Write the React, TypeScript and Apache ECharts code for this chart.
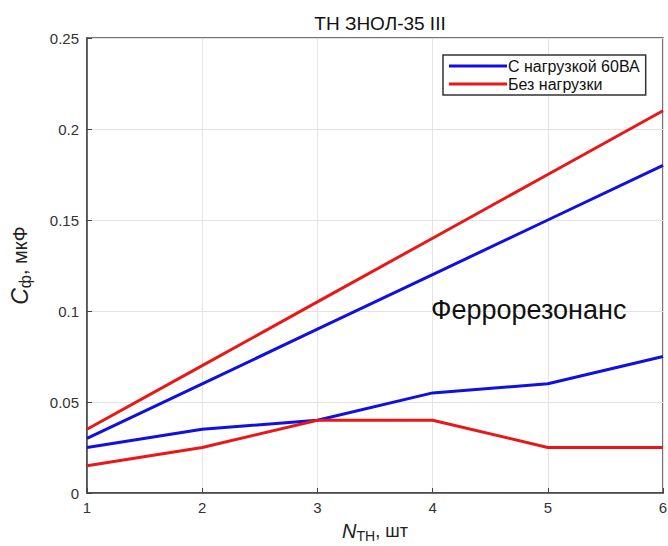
import React, { useEffect, useRef } from "react";
import * as echarts from "echarts";

const xValues = [1, 2, 3, 4, 5, 6];
const blueUpper = [0.03, 0.06, 0.09, 0.12, 0.15, 0.18];
const redUpper = [0.035, 0.07, 0.105, 0.14, 0.175, 0.21];
const blueLower = [0.025, 0.035, 0.04, 0.055, 0.06, 0.075];
const redLower = [0.015, 0.025, 0.04, 0.04, 0.025, 0.025];
const seriesNames = ["С нагрузкой 60ВА", "Без нагрузки"];
const titleText = "ТН ЗНОЛ-35 III";
const regionLabel = "Феррорезонанс";

const FONT = "Liberation Sans, Arial, sans-serif";

export default function App() {
  const ref = useRef<HTMLDivElement>(null);
  useEffect(() => {
    const chart = echarts.init(ref.current!, null, { renderer: "svg" });
    const pair = (vals: number[]) => xValues.map((x, i) => [x, vals[i]]);
    const mk = (name: string, color: string, vals: number[]) => ({
      type: "line",
      name,
      data: pair(vals),
      showSymbol: false,
      symbol: "none",
      lineStyle: { color, width: 3 },
      itemStyle: { color },
      z: 3,
    });
    const xRich = {
      i: { fontFamily: FONT, fontSize: 20, fontStyle: "italic", color: "#222" },
      s: { fontFamily: FONT, fontSize: 14, color: "#222", verticalAlign: "bottom", padding: [10, 0, 0, 0] },
      n: { fontFamily: FONT, fontSize: 18, color: "#222" },
    };
    const yRich = {
      i: { fontFamily: FONT, fontSize: 23, fontStyle: "italic", color: "#222" },
      s: { fontFamily: FONT, fontSize: 16, color: "#222", verticalAlign: "bottom", padding: [10, 0, 0, 0] },
      n: { fontFamily: FONT, fontSize: 20, color: "#222" },
    };
    chart.setOption({
      animation: false,
      backgroundColor: "#fff",
      title: {
        text: titleText,
        left: 375,
        textAlign: "center",
        top: 9,
        textStyle: { fontFamily: FONT, fontSize: 19, fontWeight: "normal", color: "#111" },
      },
      grid: {
        left: 87,
        top: 38,
        width: 576,
        height: 455,
        outerBoundsMode: "none",
        containLabel: false,
        show: true,
        borderColor: "#444",
        borderWidth: 1.5,
        backgroundColor: "#fff",
      },
      legend: {
        orient: "vertical",
        left: 443,
        top: 55,
        padding: [3, 6, 3, 6],
        itemGap: 2,
        borderColor: "#333",
        borderWidth: 1.5,
        backgroundColor: "#fff",
        icon: "rect",
        itemWidth: 58,
        itemHeight: 3,
        data: seriesNames,
        textStyle: { fontFamily: FONT, fontSize: 16, color: "#111", padding: [0, 0, 0, -4] },
      },
      xAxis: {
        type: "value",
        min: 1,
        max: 6,
        interval: 1,
        name: "{i|N}{s|TH}{n|, шт}",
        nameLocation: "middle",
        nameGap: 26,
        nameTextStyle: { rich: xRich },
        axisLine: { show: true, lineStyle: { color: "#444", width: 1.5 } },
        axisTick: { inside: true, length: 5, lineStyle: { color: "#444" } },
        axisLabel: { fontFamily: FONT, fontSize: 15, color: "#333", margin: 7 },
        splitLine: { show: true, lineStyle: { color: "#e3e3e3", width: 1 } },
      },
      yAxis: {
        type: "value",
        min: 0,
        max: 0.25,
        interval: 0.05,
        name: "{i|C}{s|ф}{n|, мкФ}",
        nameLocation: "middle",
        nameGap: 54,
        nameRotate: 90,
        nameTextStyle: { rich: yRich },
        axisLine: { show: true, lineStyle: { color: "#444", width: 1.5 } },
        axisTick: { inside: true, length: 5, lineStyle: { color: "#444" } },
        axisLabel: { fontFamily: FONT, fontSize: 15, color: "#333", margin: 8 },
        splitLine: { show: true, lineStyle: { color: "#e3e3e3", width: 1 } },
      },
      graphic: [
        {
          type: "text",
          left: 431,
          top: 296,
          z: 10,
          style: { text: regionLabel, fontFamily: FONT, fontSize: 27, fill: "#111" },
        },
      ],
      series: [
        mk(seriesNames[0], "#1010e0", blueUpper),
        mk(seriesNames[1], "#e81818", redUpper),
        mk(seriesNames[0], "#1010e0", blueLower),
        mk(seriesNames[1], "#e81818", redLower),
      ],
    });
    return () => chart.dispose();
  }, []);
  return <div ref={ref} style={{ position: "fixed", left: 0, top: 0, width: 668, height: 546 }} />;
}
